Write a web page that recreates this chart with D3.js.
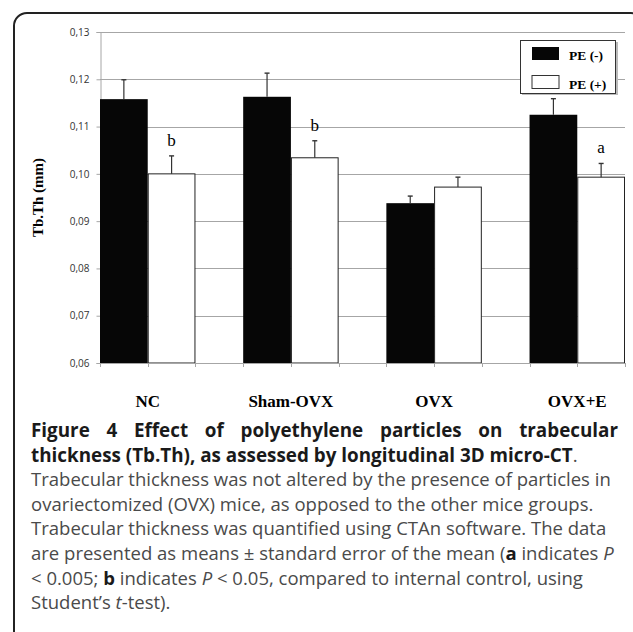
<!DOCTYPE html>
<html>
<head>
<meta charset="utf-8">
<script src="https://cdn.jsdelivr.net/npm/d3@7"></script>
<style>
  body { margin: 0; background: #fff; }
  svg { display: block; }
</style>
</head>
<body>
<div class="vis-barchart"></div>
<script>
// data
const categories = ["NC", "Sham-OVX", "OVX", "OVX+E"];
const series = ["PE (-)", "PE (+)"];
const peMinus = [0.1158, 0.1163, 0.0938, 0.1125];
const pePlus = [0.1000, 0.1034, 0.0972, 0.0993];
const errMinus = [0.0041, 0.0050, 0.0015, 0.0034];
const errPlus = [0.0038, 0.0036, 0.0021, 0.0029];
const sigPlus = ["b", "b", "", "a"];
const yTicks = [0.06, 0.07, 0.08, 0.09, 0.10, 0.11, 0.12, 0.13];

const captionHead = ["Figure 4 Effect of polyethylene particles on trabecular",
                     "thickness (Tb.Th), as assessed by longitudinal 3D micro-CT"];

const config = {
    "grid-color": "#a6a6a6",
    "bar-dark": "#060606",
    "serif": "'Liberation Serif', 'Times New Roman', serif",
    "sans": "'Open Sans', 'DejaVu Sans', sans-serif",
    "caption-color": "#4a4a4a"
};

const W = 633, H = 632;
const svg = d3.select(".vis-barchart").append("svg")
    .attr("width", W).attr("height", H);

// frame (bottom runs off the page)
svg.append("rect")
    .attr("x", 14).attr("y", 13)
    .attr("width", 630).attr("height", 700)
    .attr("rx", 13).attr("ry", 13)
    .attr("fill", "none")
    .attr("stroke", "#222").attr("stroke-width", 2);

const plot = {left: 100, right: 625, top: 32, bottom: 363};
const unit = (plot.right - plot.left) / 11;

const y = d3.scaleLinear().domain([0.06, 0.13]).range([plot.bottom, plot.top]);
const x = d3.scaleBand().domain(categories)
    .range([plot.left - unit / 2, plot.right + unit / 2])
    .paddingInner(1 / 3).paddingOuter(1 / 6);
const xs = d3.scaleBand().domain(series).range([0, x.bandwidth()]);

const rows = categories.map((c, i) => ({
    cat: c,
    vals: [
        {s: series[0], v: peMinus[i], e: errMinus[i], sig: ""},
        {s: series[1], v: pePlus[i], e: errPlus[i], sig: sigPlus[i]}
    ]
}));

// gridlines
svg.append("g").selectAll("line")
    .data(yTicks.slice(1))
    .enter().append("line")
    .attr("x1", plot.left).attr("x2", plot.right)
    .attr("y1", d => Math.round(y(d)) + 0.5).attr("y2", d => Math.round(y(d)) + 0.5)
    .attr("stroke", config["grid-color"]).attr("stroke-width", 1);

// y axis
const yAxis = svg.append("g")
    .attr("transform", `translate(${plot.left + 0.5},0)`)
    .call(d3.axisLeft(y).tickValues(yTicks).tickSize(4).tickPadding(7)
        .tickFormat(d => d3.format(".2f")(d).replace(".", ",")));
yAxis.select(".domain").attr("stroke", config["grid-color"]);
yAxis.selectAll(".tick line").attr("stroke", config["grid-color"]);
yAxis.selectAll(".tick text")
    .attr("fill", "#333")
    .style("font-family", config.sans)
    .style("font-size", "10px");

// bars
const groups = svg.append("g").selectAll("g")
    .data(rows)
    .enter().append("g")
    .attr("transform", d => `translate(${x(d.cat)},0)`);

groups.selectAll("rect")
    .data(d => d.vals)
    .enter().append("rect")
    .attr("x", d => xs(d.s) + (d.s === series[1] ? 0.5 : 0))
    .attr("y", d => y(d.v))
    .attr("width", d => xs.bandwidth() - (d.s === series[1] ? 1 : 0))
    .attr("height", d => y(0.06) - y(d.v))
    .attr("fill", d => d.s === series[0] ? config["bar-dark"] : "#fff")
    .attr("stroke", d => d.s === series[0] ? "none" : "#222")
    .attr("stroke-width", 1);

// error bars (upper only)
const err = groups.selectAll("g.err")
    .data(d => d.vals)
    .enter().append("g").attr("class", "err");
err.append("line")
    .attr("x1", d => xs(d.s) + xs.bandwidth() / 2)
    .attr("x2", d => xs(d.s) + xs.bandwidth() / 2)
    .attr("y1", d => y(d.v)).attr("y2", d => y(d.v + d.e))
    .attr("stroke", "#333").attr("stroke-width", 1.2);
err.append("line")
    .attr("x1", d => xs(d.s) + xs.bandwidth() / 2 - 2.5)
    .attr("x2", d => xs(d.s) + xs.bandwidth() / 2 + 2.5)
    .attr("y1", d => y(d.v + d.e)).attr("y2", d => y(d.v + d.e))
    .attr("stroke", "#333").attr("stroke-width", 1.4);
err.filter(d => d.sig)
    .append("text")
    .attr("x", d => xs(d.s) + xs.bandwidth() / 2)
    .attr("y", d => y(d.v + d.e) - 10)
    .attr("text-anchor", "middle")
    .style("font-family", config.serif)
    .style("font-size", "17px")
    .text(d => d.sig);

// x axis baseline with ticks at bar edges
const xAxis = svg.append("g");
xAxis.append("line")
    .attr("x1", plot.left).attr("x2", plot.right)
    .attr("y1", plot.bottom + 0.5).attr("y2", plot.bottom + 0.5)
    .attr("stroke", config["grid-color"]);
const edges = [];
categories.forEach(c => {
    series.forEach(s => edges.push(x(c) + xs(s)));
    edges.push(x(c) + x.bandwidth());
});
xAxis.selectAll("line.tk")
    .data(edges)
    .enter().append("line").attr("class", "tk")
    .attr("x1", d => Math.round(d) + 0.5).attr("x2", d => Math.round(d) + 0.5)
    .attr("y1", plot.bottom).attr("y2", plot.bottom + 4)
    .attr("stroke", config["grid-color"]);

xAxis.selectAll("text")
    .data(categories)
    .enter().append("text")
    .attr("x", d => x(d) + x.bandwidth() / 2)
    .attr("y", 407)
    .attr("text-anchor", "middle")
    .style("font-family", config.serif)
    .style("font-weight", "bold")
    .style("font-size", "17px")
    .text(d => d);

// y title
svg.append("text")
    .attr("transform", `translate(43,${(plot.top + plot.bottom) / 2}) rotate(-90)`)
    .attr("text-anchor", "middle")
    .style("font-family", config.serif)
    .style("font-weight", "bold")
    .style("font-size", "15px")
    .text("Tb.Th (mm)");

// legend
const legend = svg.append("g").attr("transform", "translate(520,40)");
legend.append("rect")
    .attr("x", 2).attr("y", 2).attr("width", 96).attr("height", 53)
    .attr("fill", "#bbb");
legend.append("rect")
    .attr("x", 0.5).attr("y", 0.5).attr("width", 95).attr("height", 53)
    .attr("fill", "#fff").attr("stroke", "#333");
const li = legend.selectAll("g.li")
    .data(series)
    .enter().append("g").attr("class", "li")
    .attr("transform", (d, i) => `translate(0,${i * 28.5})`);
li.append("rect")
    .attr("x", 12).attr("y", 7).attr("width", 27).attr("height", 13)
    .attr("fill", (d, i) => i === 0 ? config["bar-dark"] : "#fff")
    .attr("stroke", (d, i) => i === 0 ? "none" : "#333");
li.append("text")
    .attr("x", 49).attr("y", 20)
    .style("font-family", config.serif)
    .style("font-weight", "bold")
    .style("font-size", "13.5px")
    .text(d => d);

// caption
const cap = svg.append("g").style("font-family", config.sans);
const capLeft = 31, capRight = 618;
const lineY = i => 437 + i * 24.6;

// fit sizes to the measured widths
const probe = cap.append("text").style("font-size", "20px").style("font-weight", "bold").text(captionHead[1]);
const headSize = 20 * 542 / probe.node().getComputedTextLength();
probe.style("font-weight", "normal").text("Trabecular thickness was not altered by the presence of particles in");
const bodySize = 20 * 580 / probe.node().getComputedTextLength();
probe.remove();

// line 1 justified word by word
const words = captionHead[0].split(" ");
const wg = cap.append("g").style("font-weight", "bold").style("font-size", headSize + "px").attr("fill", "#1a1a1a");
const wt = wg.selectAll("text").data(words).enter().append("text").attr("y", lineY(0)).text(d => d);
const ww = wt.nodes().map(n => n.getComputedTextLength());
const gap = (capRight - capLeft - d3.sum(ww)) / (words.length - 1);
let cx = capLeft;
wt.attr("x", (d, i) => { const v = cx; cx += ww[i] + gap; return v; });

const l2 = cap.append("text").attr("x", capLeft).attr("y", lineY(1))
    .style("font-size", headSize + "px").attr("fill", "#1a1a1a");
l2.append("tspan").style("font-weight", "bold").text(captionHead[1]);
l2.append("tspan").attr("fill", config["caption-color"]).text(".");

// body lines: arrays of [text, style]
const bodyLines = [
    [["Trabecular thickness was not altered by the presence of particles in", ""]],
    [["ovariectomized (OVX) mice, as opposed to the other mice groups.", ""]],
    [["Trabecular thickness was quantified using CTAn software. The data", ""]],
    [["are presented as means \u00b1 standard error of the mean (", ""], ["a", "b"], [" indicates ", ""], ["P", "i"]],
    [["< 0.005; ", ""], ["b", "b"], [" indicates ", ""], ["P", "i"], [" < 0.05, compared to internal control, using", ""]],
    [["Student\u2019s ", ""], ["t", "i"], ["-test).", ""]]
];
bodyLines.forEach((parts, i) => {
    const t = cap.append("text").attr("x", capLeft).attr("y", lineY(i + 2))
        .attr("fill", config["caption-color"])
        .style("font-size", bodySize + "px")
        .attr("xml:space", "preserve")
        .style("white-space", "pre");
    parts.forEach(p => {
        const ts = t.append("tspan").text(p[0]);
        if (p[1] === "b") ts.style("font-weight", "bold").attr("fill", "#1a1a1a");
        if (p[1] === "i") ts.style("font-style", "italic");
    });
});
</script>
</body>
</html>
